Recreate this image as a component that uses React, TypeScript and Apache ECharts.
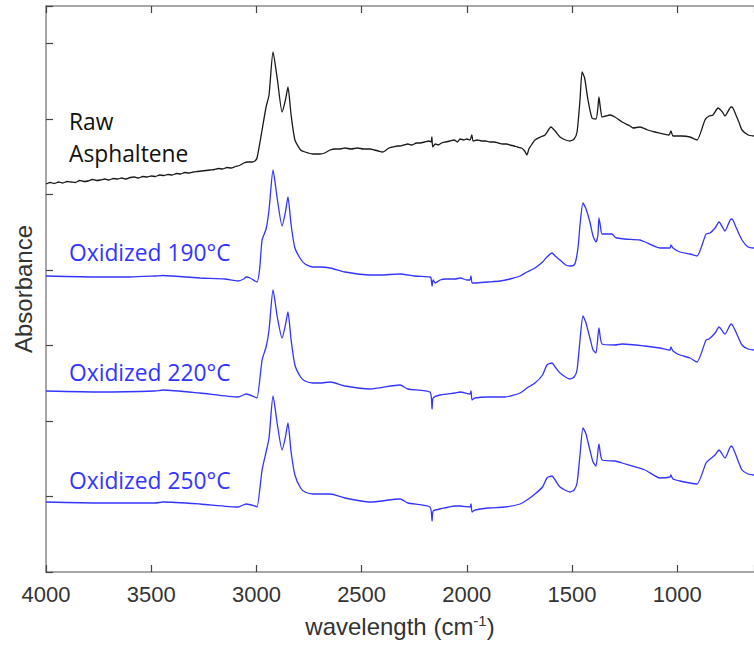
import React, { useEffect, useRef } from "react";
import * as echarts from "echarts";

// Wavenumber (cm^-1) and absorbance (arbitrary units, spectra offset vertically)
const rawAsphaltene: [number, number][] = [
  [4000, 388], [3980, 389.5], [3960, 388.5], [3940, 390], [3920, 389], [3900, 390.5], [3880, 390],
  [3860, 389.5], [3840, 391.5], [3820, 390.5], [3800, 391], [3780, 392.5], [3760, 391.5], [3740, 392],
  [3720, 393], [3700, 392], [3680, 393.5], [3660, 393], [3640, 394], [3620, 393], [3600, 394.5],
  [3580, 395], [3560, 394], [3540, 395.5], [3520, 395], [3500, 396], [3480, 395.5], [3460, 397],
  [3440, 396.5], [3420, 397.5], [3400, 397], [3380, 398.5], [3360, 398], [3340, 399.5], [3320, 399],
  [3300, 400], [3280, 400.5], [3260, 401], [3240, 401.5], [3220, 402], [3200, 402.5], [3180, 403.5],
  [3160, 403], [3140, 404.5], [3120, 404], [3100, 405.5], [3080, 406.5], [3060, 409], [3040, 410],
  [3020, 410], [3007, 411], [2997, 414],
  [2973, 442], [2954, 465], [2940, 477], [2921, 520], [2900, 492], [2878, 460], [2862, 472],
  [2850, 485], [2835, 457], [2817, 432], [2790, 422], [2769, 420], [2731, 418], [2698, 418],
  [2675, 419], [2650, 422], [2625, 423], [2600, 423], [2579, 424], [2550, 423], [2520, 424],
  [2490, 423], [2460, 423], [2440, 422], [2420, 421], [2400, 420], [2389, 421], [2370, 424],
  [2350, 425], [2330, 426], [2317, 426], [2300, 427], [2280, 428], [2260, 427], [2240, 429],
  [2222, 429], [2200, 430], [2180, 431], [2170, 430], [2166, 435], [2162, 425], [2150, 428],
  [2135, 427], [2120, 429], [2100, 430], [2080, 431], [2060, 432], [2045, 430], [2032, 433],
  [2015, 432], [2000, 433], [1985, 432], [1976, 437], [1970, 431], [1950, 432], [1930, 431],
  [1910, 431], [1890, 430], [1870, 430], [1850, 429], [1830, 428], [1810, 428], [1795, 427],
  [1775, 426], [1760, 425], [1740, 424], [1725, 421], [1714, 417], [1705, 423], [1690, 428],
  [1676, 432], [1650, 435], [1628, 437], [1600, 445], [1580, 441], [1557, 435], [1530, 432],
  [1509, 431], [1490, 433], [1476, 440], [1462, 472], [1452, 500], [1440, 494], [1424, 472],
  [1405, 454], [1386, 453], [1377, 464], [1372, 475], [1365, 464], [1357, 455], [1340, 456],
  [1319, 457], [1296, 455], [1262, 450], [1224, 446], [1210, 444], [1177, 445], [1140, 442],
  [1105, 440], [1039, 437], [1030, 441], [1020, 436], [980, 436], [939, 435], [906, 432],
  [868, 452], [849, 456], [830, 457], [806, 464], [785, 460], [773, 456], [744, 465],
  [735, 464], [721, 457], [705, 449], [692, 442], [663, 437], [635, 436],
];

const oxidized190: [number, number][] = [
  [4000, 296], [3743, 295], [3600, 295], [3482, 296], [3444, 296.5], [3400, 296], [3268, 294],
  [3150, 293], [3087, 291], [3060, 293], [3049, 295], [3030, 294], [3007, 291], [2997, 290],
  [2985, 302], [2973, 332], [2954, 343], [2940, 362], [2921, 402], [2900, 372], [2878, 346],
  [2862, 360], [2850, 375], [2835, 347], [2817, 324], [2790, 313], [2769, 308], [2731, 305],
  [2698, 305], [2650, 304], [2579, 300], [2460, 297], [2413, 297], [2317, 298], [2250, 296],
  [2175, 295], [2170, 294], [2165, 286], [2160, 292], [2150, 289], [2127, 292], [2100, 293],
  [2056, 293], [2030, 294], [2000, 292], [1985, 292], [1980, 296], [1975, 289], [1961, 289],
  [1900, 290], [1842, 291], [1795, 293], [1747, 296], [1714, 300], [1676, 304], [1640, 310],
  [1619, 315], [1595, 319], [1580, 316], [1557, 312], [1530, 307], [1509, 306], [1490, 307],
  [1481, 312], [1470, 327], [1462, 347], [1448, 369], [1435, 364], [1415, 350], [1400, 336],
  [1386, 330], [1377, 337], [1372, 354], [1365, 346], [1357, 338], [1310, 338], [1296, 335],
  [1286, 334], [1250, 333], [1177, 332], [1153, 330], [1082, 324], [1034, 324], [1030, 327],
  [1020, 324], [987, 320], [939, 318], [906, 316], [863, 338], [844, 339], [820, 344],
  [801, 350], [773, 341], [744, 353], [735, 352], [721, 345], [692, 332], [663, 325], [635, 324],
];

const oxidized220: [number, number][] = [
  [4000, 181], [3743, 180], [3482, 181], [3444, 182], [3268, 179], [3087, 175], [3049, 178],
  [3007, 175], [2997, 174], [2973, 212], [2954, 225], [2940, 242], [2921, 282], [2900, 254],
  [2878, 234], [2862, 247], [2850, 260], [2835, 232], [2817, 207], [2790, 195], [2769, 191],
  [2731, 189], [2698, 189], [2650, 190], [2579, 186], [2460, 183], [2317, 187], [2280, 183],
  [2175, 180], [2165, 163], [2160, 174], [2127, 177], [2056, 179], [2032, 180], [1985, 178],
  [1980, 181], [1975, 172], [1961, 174], [1900, 175], [1818, 175], [1747, 179], [1714, 184],
  [1676, 189], [1640, 197], [1619, 207], [1595, 209], [1580, 205], [1557, 199], [1509, 193],
  [1490, 195], [1476, 202], [1462, 232], [1448, 256], [1435, 250], [1415, 234], [1400, 222],
  [1386, 219], [1372, 244], [1357, 228], [1296, 227], [1262, 228], [1153, 226], [1082, 224],
  [1034, 222], [1030, 225], [1020, 221], [987, 217], [939, 214], [906, 210], [863, 232],
  [849, 233], [820, 239], [801, 245], [773, 238], [744, 248], [735, 246], [721, 240],
  [692, 227], [663, 223], [635, 222],
];

const oxidized250: [number, number][] = [
  [4000, 70], [3743, 69], [3482, 69], [3444, 70], [3268, 68], [3087, 65], [3049, 68],
  [3007, 66], [2997, 65], [2973, 102], [2954, 120], [2940, 134], [2921, 176], [2900, 147],
  [2878, 122], [2862, 135], [2850, 149], [2835, 120], [2817, 97], [2790, 84], [2769, 80],
  [2731, 78], [2698, 78], [2650, 78], [2579, 74], [2460, 70], [2317, 73], [2280, 69],
  [2175, 65], [2165, 51], [2160, 61], [2127, 63], [2056, 66], [2032, 66], [1985, 65],
  [1980, 68], [1975, 60], [1961, 62], [1900, 64], [1818, 65], [1747, 68], [1714, 72],
  [1676, 78], [1640, 85], [1619, 94], [1595, 96], [1580, 92], [1557, 85], [1509, 80],
  [1490, 82], [1476, 89], [1462, 117], [1448, 144], [1435, 139], [1415, 122], [1400, 110],
  [1386, 106], [1372, 128], [1357, 112], [1296, 111], [1262, 109], [1153, 102], [1082, 94],
  [1034, 95], [1030, 97], [1020, 93], [987, 91], [939, 89], [906, 88], [863, 109],
  [849, 112], [820, 117], [801, 122], [773, 114], [744, 126], [735, 124], [721, 117],
  [692, 102], [663, 98], [635, 97],
];

const seriesNames = ["Raw Asphaltene", "Oxidized 190°C", "Oxidized 220°C", "Oxidized 250°C"];
const labelLines = [["Raw", "Asphaltene"], ["Oxidized 190°C"], ["Oxidized 220°C"], ["Oxidized 250°C"]];

const X_MIN = 635;
const X_MAX = 4000;
const Y_MAX = 566;
const Y_TICK = 75.5;

const BLUE = "#3434ff";
const BLACK = "#1a1a1a";
const AXIS_GRAY = "#8a8a8a";
const TEXT_GRAY = "#333333";
const ARIAL = "'Liberation Sans', Arial, sans-serif";

export default function App() {
  const ref = useRef<HTMLDivElement>(null);
  useEffect(() => {
    if (!ref.current) return;
    const chart = echarts.init(ref.current, undefined, { renderer: "svg" });
    const all = [rawAsphaltene, oxidized190, oxidized220, oxidized250];
    const colors = [BLACK, BLUE, BLUE, BLUE];
    const labelFont = "22.8px 'Open Sans', sans-serif";
    const labelPos = [
      { x: 69, y: 121 },
      { x: 69, y: 252 },
      { x: 69, y: 372 },
      { x: 69, y: 480 },
    ];
    const graphics: any[] = [];
    labelLines.forEach((lines, i) => {
      lines.forEach((t, j) => {
        graphics.push({
          type: "text",
          x: labelPos[i].x,
          y: labelPos[i].y + j * 32,
          style: {
            text: t,
            font: labelFont,
            fill: i === 0 ? "#111" : BLUE,
            verticalAlign: "middle",
            align: "left",
          },
        });
      });
    });

    const xBase = {
      type: "value" as const,
      inverse: true,
      min: X_MIN,
      max: X_MAX,
      splitNumber: 7,
      splitLine: { show: false },
      axisLine: { show: true, lineStyle: { color: AXIS_GRAY, width: 1.5 } },
      axisTick: { show: true, inside: true, length: 7, lineStyle: { color: "#444", width: 1.2 } },
    };

    chart.setOption({
      animation: false,
      backgroundColor: "#ffffff",
      grid: { left: 46, right: 0, top: 6, bottom: 77, containLabel: false, outerBoundsMode: "none" },
      xAxis: [
        {
          ...xBase,
          position: "bottom",
          name: "wavelength (cm{sup|-1})",
          nameLocation: "middle",
          nameGap: 41,
          nameTextStyle: {
            fontFamily: ARIAL,
            fontSize: 24,
            color: TEXT_GRAY,
            rich: {
              sup: {
                fontFamily: ARIAL,
                fontSize: 15,
                color: TEXT_GRAY,
                verticalAlign: "top",
                padding: [0, 0, 12, 0],
              },
            },
          },
          axisLabel: {
            show: true,
            margin: 11,
            fontFamily: ARIAL,
            fontSize: 22,
            color: TEXT_GRAY,
            formatter: (v: number) => (v % 500 === 0 ? String(v) : ""),
          },
        },
        {
          ...xBase,
          position: "top",
          axisLabel: { show: false },
        },
      ],
      yAxis: {
        type: "value",
        min: 0,
        max: Y_MAX,
        interval: Y_TICK,
        name: "Absorbance",
        nameLocation: "middle",
        nameGap: 11,
        nameRotate: 90,
        nameTextStyle: { fontFamily: ARIAL, fontSize: 24, color: TEXT_GRAY },
        splitLine: { show: false },
        axisLabel: { show: false },
        axisLine: { show: true, lineStyle: { color: AXIS_GRAY, width: 1.5 } },
        axisTick: { show: true, inside: true, length: 7, lineStyle: { color: "#444", width: 1.2 } },
      },
      series: all.map((d, i) => ({
        name: seriesNames[i],
        type: "line",
        xAxisIndex: 0,
        data: d,
        showSymbol: false,
        symbol: "none",
        smooth: 0.2,
        lineStyle: { color: colors[i], width: 1.3 },
        z: 3,
      })),
      graphic: graphics,
    });
    return () => chart.dispose();
  }, []);
  return <div ref={ref} style={{ width: 754, height: 649, position: "absolute", left: 0, top: 0 }} />;
}
